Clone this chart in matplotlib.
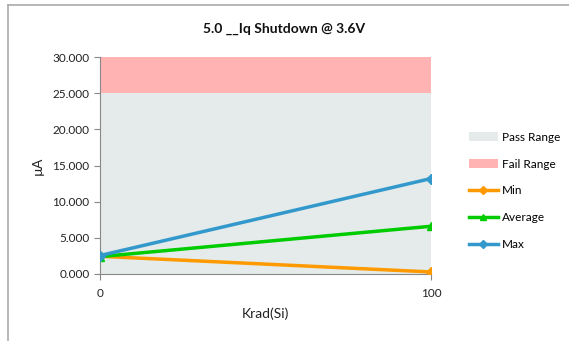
import matplotlib
matplotlib.use("Agg")
import matplotlib.pyplot as plt
from matplotlib.patches import Patch
from matplotlib.lines import Line2D
from matplotlib.ticker import FormatStrFormatter

plt.rcParams['font.family'] = ['Lato', 'DejaVu Sans']

x = [0, 100]
min_vals = [2.45, 0.28]
avg_vals = [2.4, 6.6]
max_vals = [2.55, 13.2]
pass_limit = 25.0
fail_limit = 30.0
xticks = [0, 100]
yticks = [0, 5, 10, 15, 20, 25, 30]

fig = plt.figure(figsize=(5.69, 3.41), dpi=100)
ax = fig.add_axes([0.1757, 0.1965, 0.7575 - 0.1757, 0.8328 - 0.1965])

ax.fill_between(x, 0, pass_limit, color='#E4EBEA', lw=0)
ax.fill_between(x, pass_limit, fail_limit, color='#FFB3B3', lw=0)

ax.plot(x, min_vals, color='#FF9900', lw=2.5, marker='D', ms=5, zorder=3)
ax.plot(x, avg_vals, color='#00CC00', lw=2.5, marker='^', ms=6, zorder=3)
ax.plot(x, max_vals, color='#3399CC', lw=2.5, marker='D', ms=5, zorder=4)

ax.set_xlim(0, 100)
ax.set_ylim(0, 30)
ax.set_xticks(xticks)
ax.set_yticks(yticks)
ax.yaxis.set_major_formatter(FormatStrFormatter('%.3f'))
ax.tick_params(axis='both', labelsize=8.5, length=4, width=0.8)
ax.tick_params(axis='x', colors='#888888', labelcolor='#222222', pad=6)
ax.tick_params(axis='y', colors='#888888', labelcolor='#222222')
for s in ['top', 'right']:
    ax.spines[s].set_visible(False)
for s in ['left', 'bottom']:
    ax.spines[s].set_color('#888888')
    ax.spines[s].set_linewidth(0.8)

ax.set_xlabel('Krad(Si)', fontsize=10, color='#222222', labelpad=6)
ax.set_ylabel('µA', fontsize=10, color='#222222', labelpad=6)
fig.text(0.5, 0.915, '5.0 __Iq Shutdown @ 3.6V', ha='center', va='center',
         fontsize=10, fontweight='bold', color='#111111')

handles = [
    Patch(facecolor='#E4EBEA', edgecolor='none', label='Pass Range'),
    Patch(facecolor='#FFB3B3', edgecolor='none', label='Fail Range'),
    Line2D([], [], color='#FF9900', lw=2.5, marker='D', ms=4, label='Min'),
    Line2D([], [], color='#00CC00', lw=2.5, marker='^', ms=5, label='Average'),
    Line2D([], [], color='#3399CC', lw=2.5, marker='D', ms=4, label='Max'),
]
fig.legend(handles=handles, loc='center left', bbox_to_anchor=(0.805, 0.44),
           frameon=False, fontsize=8.5, labelspacing=1.35, handlelength=2.5,
           handletextpad=0.3)

fig.add_artist(Line2D([0.014, 0.014], [0, 0.985], transform=fig.transFigure,
                      color='#AAAAAA', lw=1.2))
fig.add_artist(Line2D([0.014, 1.0], [0.985, 0.985], transform=fig.transFigure,
                      color='#AAAAAA', lw=1.2))

fig.savefig('out.png', dpi=100)
